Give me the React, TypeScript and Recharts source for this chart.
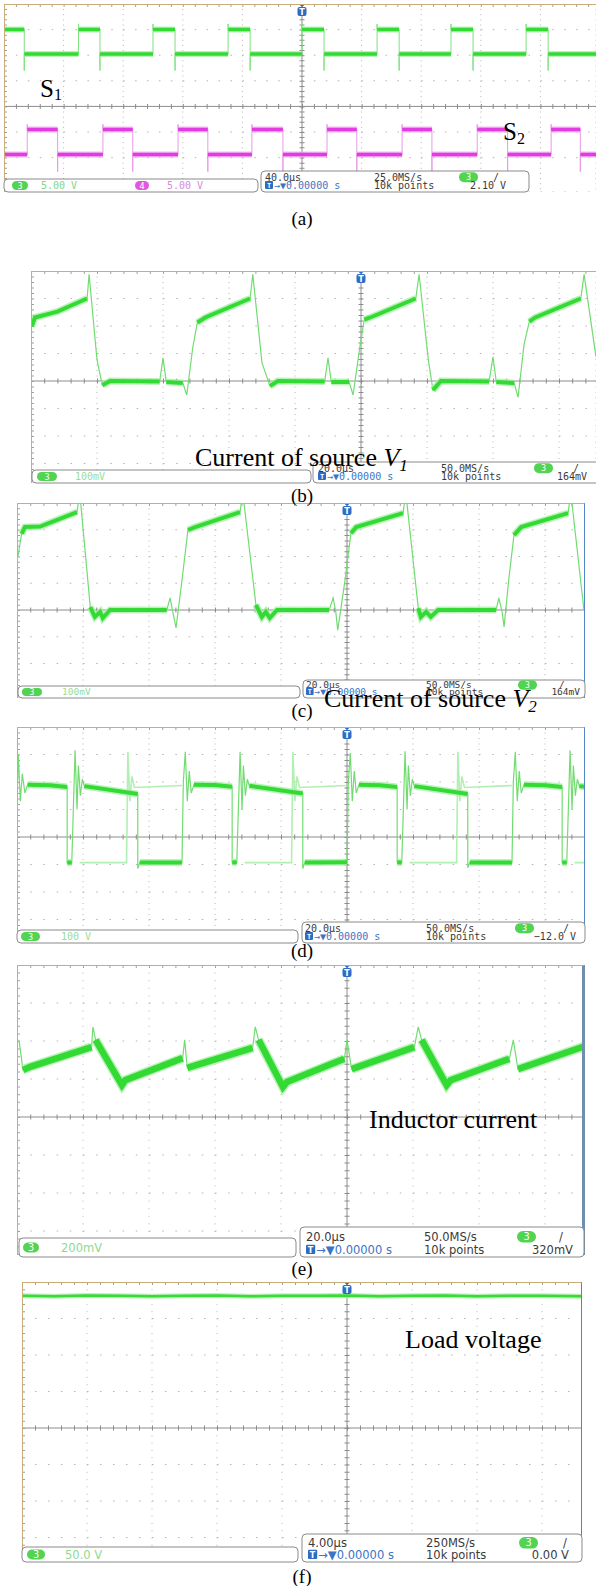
import React from 'react';
import { ComposedChart, Line, XAxis, YAxis, CartesianGrid, ReferenceLine, ReferenceDot } from 'recharts';

// every trace is in screen divisions, measured from the trigger (centre of the screen)

// (a) gate pulses, 40 µs/div, 5 V/div
const s1Rise = [-3.75, -2.5, -1.24, 0, 1.26, 2.5, 3.76];
const s1Fall = [-4.66, -3.39, -2.13, -0.87, 0.37, 1.63, 2.87, 4.13];
const s1Level = [2.05, 3.0]; // low, high
const s1Ring = [1.4, 3.22]; // edge overshoot below / above
const s2Rise = [-4.61, -3.34, -2.08, -0.84, 0.42, 1.68, 2.94, 4.18];
const s2Fall = [-4.1, -2.84, -1.58, -0.32, 0.92, 2.18, 3.45, 4.67];
const s2Level = [-1.88, -0.9];
const s2Ring = [-2.55, -0.7];

// (b) current of source V1, 20 µs/div
const bTime = [-4.99, -4.94, -4.6, -4.15, -4.12, -4.0, -3.92, -3.8, -3.05, -3.0, -2.95, -2.7, -2.64, -2.55, -2.48, -2.36, -1.68, -1.64, -1.5, -1.38, -1.26, -0.55, -0.5, -0.45, -0.18, -0.12, -0.02, 0.05, 0.14, 0.83, 0.88, 1.02, 1.09, 1.21, 1.94, 2.0, 2.05, 2.32, 2.38, 2.47, 2.55, 2.64, 3.33, 3.38, 3.56];
const bCurrent = [1.98, 2.31, 2.52, 3.0, 3.88, 0.77, -0.15, 0, -0.02, 0.84, -0.04, -0.07, -0.51, 1.2, 2.12, 2.31, 3.0, 3.88, 0.66, -0.18, 0, -0.02, 0.84, -0.04, -0.04, -0.51, 1.2, 2.23, 2.31, 3.0, 3.88, 0.77, -0.33, 0, -0.02, 0.88, -0.04, -0.07, -0.59, 1.32, 2.16, 2.31, 3.0, 3.88, 0.88];
const bBand = [1, 1, 1, 0, 0, 0, 1, 1, 0, 0, 1, 0, 0, 0, 1, 1, 0, 0, 0, 1, 1, 0, 0, 1, 0, 0, 0, 1, 1, 0, 0, 0, 1, 1, 0, 0, 1, 0, 0, 0, 1, 1, 0, 0];

// (c) current of source V2
const cTime = [-4.985, -4.93, -4.88, -4.65, -4.09, -4.05, -3.89, -3.82, -3.74, -3.7, -3.59, -2.73, -2.68, -2.64, -2.59, -2.5, -2.41, -2.3, -1.62, -1.58, -1.38, -1.29, -1.23, -1.17, -1.06, -0.27, -0.21, -0.17, -0.14, -0.03, 0.06, 0.14, 0.85, 0.89, 1.08, 1.12, 1.2, 1.27, 1.38, 2.26, 2.3, 2.35, 2.38, 2.45, 2.53, 2.64, 3.35, 3.39, 3.59];
const cCurrent = [2.01, 2.85, 3.1, 3.12, 3.66, 4.4, 0.11, -0.26, -0.07, -0.3, 0, 0, 0.45, -0.07, -0.67, 1.12, 2.99, 3.1, 3.66, 4.4, 0.19, -0.26, -0.07, -0.3, 0, 0, 0.45, -0.07, -0.75, 1.12, 2.87, 3.1, 3.62, 4.4, 0.07, -0.26, -0.07, -0.26, 0, 0, 0.45, -0.07, -0.63, 1.12, 2.8, 3.1, 3.62, 4.4, 0];
const cBand = [0, 1, 1, 1, 0, 0, 1, 1, 1, 1, 1, 0, 0, 0, 0, 0, 1, 1, 0, 0, 1, 1, 1, 1, 1, 0, 0, 0, 0, 0, 1, 1, 0, 0, 1, 1, 1, 1, 1, 0, 0, 0, 0, 0, 1, 1, 0, 0];

// (d) switch voltage, 100 V/div
const dTime = [
  -5.0, -4.98, -4.95, -4.92, -4.88, -4.84, -4.5, -4.24, -4.24, -4.17, -4.12, -4.09, -4.07, -4.04, -4.01, -3.98, -3.17, -3.17, -3.14, -2.5,
  -2.48, -2.45, -2.42, -2.39, -2.36, -2.32, -2.0, -1.74, -1.74, -1.67, -1.62, -1.59, -1.57, -1.54, -1.51, -1.48, -0.67, -0.67, -0.64, 0,
  0.02, 0.05, 0.08, 0.11, 0.14, 0.18, 0.5, 0.76, 0.76, 0.83, 0.88, 0.91, 0.93, 0.96, 0.99, 1.02, 1.83, 1.83, 1.86, 2.5,
  2.52, 2.55, 2.58, 2.61, 2.64, 2.68, 3.0, 3.26, 3.26, 3.33, 3.38, 3.41, 3.43, 3.46, 3.49, 3.52, 3.61,
];
const dVoltage = [
  1.2, 3.0, 1.3, 2.3, 1.6, 1.9, 1.88, 1.82, -0.93, -0.93, 3.15, 1.0, 2.6, 1.5, 2.1, 1.85, 1.56, -1.15, -0.93, -0.93,
  2.0, 3.1, 1.3, 2.4, 1.6, 1.9, 1.89, 1.83, -0.93, -0.92, 3.1, 1.0, 2.6, 1.5, 2.1, 1.86, 1.58, -1.15, -0.93, -0.92,
  2.0, 3.05, 1.3, 2.4, 1.6, 1.9, 1.88, 1.82, -0.92, -0.93, 3.12, 1.0, 2.6, 1.5, 2.1, 1.85, 1.56, -1.12, -0.93, -0.93,
  2.0, 3.1, 1.3, 2.4, 1.6, 1.9, 1.88, 1.82, -0.93, -0.93, 3.15, 1.0, 2.6, 1.5, 2.1, 1.85, 1.83,
];
const dBand = [
  0, 0, 0, 0, 0, 1, 1, 0, 1, 0, 0, 0, 0, 0, 0, 1, 0, 0, 1, 0,
  0, 0, 0, 0, 0, 1, 1, 0, 1, 0, 0, 0, 0, 0, 0, 1, 0, 0, 1, 0,
  0, 0, 0, 0, 0, 1, 1, 0, 1, 0, 0, 0, 0, 0, 0, 1, 0, 0, 1, 0,
  0, 0, 0, 0, 0, 1, 1, 0, 1, 0, 0, 0, 0, 0, 0, 1,
];
const dGhostTime = [-4.05, -3.34, -3.32, -3.29, -3.26, -3.22, -2.5, -2.5, -1.55, -0.84, -0.82, -0.79, -0.76, -0.72, 0, 0, 0.95, 1.66, 1.68, 1.71, 1.74, 1.78, 2.5, 2.5, 3.45, 3.61];
const dGhostVoltage = [-0.93, -0.93, 3.1, 1.3, 2.2, 1.8, 1.87, null, -0.93, -0.93, 3.1, 1.3, 2.2, 1.8, 1.87, null, -0.93, -0.93, 3.1, 1.3, 2.2, 1.8, 1.87, null, -0.93, -0.93];

// (e) inductor current, 200 mV/div
const eTime = [-4.97, -4.91, -4.8, -3.87, -3.85, -3.81, -3.41, -3.36, -2.49, -2.46, -2.42, -1.43, -1.39, -1.34, -0.97, -0.91, -0.04, 0.0, 0.07, 1.02, 1.08, 1.13, 1.51, 1.57, 2.46, 2.52, 2.59, 3.6];
const eCurrent = [2.03, 1.24, 1.32, 1.84, 2.37, 2.03, 0.84, 0.97, 1.55, 2.03, 1.29, 1.82, 2.37, 2.03, 0.79, 0.92, 1.53, 2.03, 1.26, 1.84, 2.37, 2.03, 0.84, 0.97, 1.53, 2.03, 1.26, 1.86];
const eBand = [0, 1, 1, 0, 0, 1, 1, 1, 0, 0, 1, 0, 0, 1, 1, 1, 0, 0, 1, 0, 0, 1, 1, 1, 0, 0, 1];

// (f) load voltage, 4 µs/div, 50 V/div
const fTime = [-5, -4.5, -4, -3.5, -3, -2.5, -2, -1.5, -1, -0.5, 0, 0.5, 1, 1.5, 2, 2.5, 3, 3.62];
const fVoltage = [3.62, 3.61, 3.63, 3.62, 3.61, 3.62, 3.63, 3.61, 3.62, 3.62, 3.63, 3.61, 3.62, 3.63, 3.61, 3.62, 3.62, 3.61];

type Pt = { t: number; v: number | null };

const path = (ts: number[], vs: (number | null)[]): Pt[] => ts.map((t, i) => ({ t, v: vs[i] }));

// keep only the segments flagged in mask, break the line elsewhere
const band = (ts: number[], vs: number[], mask: number[]): Pt[] => {
  const out: Pt[] = [];
  ts.forEach((t, i) => {
    const before = i > 0 && mask[i - 1] === 1;
    const after = i < ts.length - 1 && mask[i] === 1;
    if (!before && !after) return;
    if (!before && out.length && out[out.length - 1].v !== null) out.push({ t, v: null });
    out.push({ t, v: vs[i] });
  });
  return out;
};

const pulses = (rise: number[], fall: number[], level: number[], ring: number[], t0: number, t1: number, startHigh: boolean) => {
  const edges = [...rise.map((t) => ({ t, up: true })), ...fall.map((t) => ({ t, up: false }))].sort((p, q) => p.t - q.t);
  let cur = startHigh ? level[1] : level[0];
  const thin: Pt[] = [{ t: t0, v: cur }];
  const thick: Pt[] = [{ t: t0, v: cur }];
  edges.forEach(({ t, up }) => {
    const next = up ? level[1] : level[0];
    thin.push({ t, v: cur }, { t, v: up ? ring[1] : ring[0] }, { t, v: next });
    thick.push({ t, v: cur }, { t, v: null }, { t, v: next });
    cur = next;
  });
  thin.push({ t: t1, v: cur });
  thick.push({ t: t1, v: cur });
  return { thin, thick };
};

const s1 = pulses(s1Rise, s1Fall, s1Level, s1Ring, -5, 5, true);
const s2 = pulses(s2Rise, s2Fall, s2Level, s2Ring, -5, 5, false);

type Trace = { data: Pt[]; stroke: string; width: number; opacity?: number };

const greenTraces = (thin: Pt[], thick: Pt[], w: number): Trace[] => [
  { data: thin, stroke: '#72dc72', width: 1.2 },
  { data: thick, stroke: '#a9efa9', width: w + 3, opacity: 0.8 },
  { data: thick, stroke: '#34da34', width: w },
];

const TMarker = (p: any) => (
  <g>
    <path d={`M${p.cx - 3.5},${p.cy} L${p.cx + 3.5},${p.cy} L${p.cx},${p.cy + 3} Z`} fill="#2c6cc4" />
    <rect x={p.cx - 4.5} y={p.cy + 3} width={9} height={9} rx={2} fill="#2c6cc4" />
    <text x={p.cx} y={p.cy + 10.5} fontSize={8} fill="#fff" textAnchor="middle" fontFamily="DejaVu Sans" fontWeight="bold">
      T
    </text>
  </g>
);

interface ScopeProps {
  left: number;
  top: number;
  width: number;
  height: number;
  divX: number;
  divY: number;
  traces: Trace[];
  rightEdge?: string;
  rightWidth?: number;
}

const Scope: React.FC<ScopeProps> = ({ left, top, width, height, divX, divY, traces, rightEdge, rightWidth = 1 }) => {
  const xMin = -5;
  const xMax = xMin + width / divX;
  const yMax = 4;
  const yMin = yMax - height / divY;
  const xTicks = [-4, -3, -2, -1, 1, 2, 3, 4].filter((v) => v < xMax);
  const yTicks = [-3, -2, -1, 1, 2, 3].filter((v) => v > yMin);
  const hStep = divX * 0.2;
  const vStep = divY * 0.2;
  return (
    <div style={{ position: 'absolute', left, top, width, height, overflow: 'hidden' }}>
      <ComposedChart width={width} height={height} margin={{ top: 0, right: 0, bottom: 0, left: 0 }}>
        <XAxis type="number" dataKey="t" domain={[xMin, xMax]} ticks={xTicks} allowDataOverflow hide />
        <YAxis type="number" domain={[yMin, yMax]} ticks={yTicks} allowDataOverflow hide />
        <CartesianGrid horizontal={false} stroke="#b4b4b4" strokeDasharray={`1 ${vStep - 1}`} />
        <CartesianGrid vertical={false} stroke="#b4b4b4" strokeDasharray={`1.5 ${hStep - 1.5}`} />
        <ReferenceLine y={0} stroke="#8c8c8c" />
        <ReferenceLine x={0} stroke="#8c8c8c" />
        <ReferenceLine segment={[{ x: xMin, y: 0 }, { x: xMax, y: 0 }]} stroke="#8c8c8c" strokeWidth={5} strokeDasharray={`1 ${hStep - 1}`} />
        <ReferenceLine segment={[{ x: 0, y: yMax }, { x: 0, y: yMin }]} stroke="#8c8c8c" strokeWidth={5} strokeDasharray={`1 ${vStep - 1}`} />
        <ReferenceLine segment={[{ x: xMin, y: yMax }, { x: xMax, y: yMax }]} stroke="#a0a0a0" strokeWidth={6} strokeDasharray={`1 ${hStep - 1}`} />
        <ReferenceLine segment={[{ x: xMin, y: yMax }, { x: xMin, y: yMin }]} stroke="#a0a0a0" strokeWidth={6} strokeDasharray={`1 ${vStep - 1}`} />
        {traces.map((tr, i) => (
          <Line
            key={i}
            data={tr.data}
            dataKey="v"
            type="linear"
            dot={false}
            activeDot={false}
            isAnimationActive={false}
            stroke={tr.stroke}
            strokeWidth={tr.width}
            strokeOpacity={tr.opacity ?? 1}
            connectNulls={false}
          />
        ))}
        <ReferenceDot x={0} y={yMax} r={4} shape={TMarker} ifOverflow="visible" />
      </ComposedChart>
      <div
        style={{
          position: 'absolute',
          inset: 0,
          boxSizing: 'border-box',
          borderTop: '1.5px solid #c8ad78',
          borderLeft: '1.5px solid #c8ad78',
          borderRight: rightEdge ? `${rightWidth}px solid ${rightEdge}` : undefined,
          pointerEvents: 'none',
        }}
      />
    </div>
  );
};

interface Chan {
  x: number;
  w: number;
  n: string;
  fill: string;
  text: string;
  tx: number;
  tc: string;
}

interface StatusSpec {
  lb: number[];
  rb: number[];
  chans: Chan[];
  scale: string;
  rate: string;
  level: string;
  cx: number;
  rx: number;
  px: number;
  sx: number;
  lx: number;
  font: string;
  size: number;
}

const mono = 'DejaVu Sans Mono, monospace';
const sans = 'DejaVu Sans, sans-serif';
const ch3 = '#52d352';

const statusList: StatusSpec[] = [
  {
    lb: [4, 179, 254, 13], rb: [261, 171, 268, 21],
    chans: [
      { x: 12, w: 16, n: '3', fill: ch3, text: '5.00 V', tx: 41, tc: '#84d684' },
      { x: 135, w: 14, n: '4', fill: '#e058e0', text: '5.00 V', tx: 167, tc: '#d68ad6' },
    ],
    scale: '40.0µs', rate: '25.0MS/s', level: '2.10 V', cx: 265, rx: 374, px: 459, sx: 493, lx: 506, font: mono, size: 10,
  },
  {
    lb: [32, 470, 279, 13], rb: [313, 462, 290, 21],
    chans: [{ x: 37, w: 20, n: '3', fill: ch3, text: '100mV', tx: 75, tc: '#9adc9a' }],
    scale: '20.0µs', rate: '50.0MS/s', level: '164mV', cx: 318, rx: 441, px: 534, sx: 573, lx: 587, font: mono, size: 10,
  },
  {
    lb: [18, 686, 282, 12], rb: [303, 680, 282, 18],
    chans: [{ x: 22, w: 20, n: '3', fill: ch3, text: '100mV', tx: 62, tc: '#9adc9a' }],
    scale: '20.0µs', rate: '50.0MS/s', level: '164mV', cx: 306, rx: 426, px: 518, sx: 559, lx: 580, font: mono, size: 9.5,
  },
  {
    lb: [17, 930, 281, 13], rb: [302, 922, 283, 21],
    chans: [{ x: 21, w: 19, n: '3', fill: ch3, text: '100 V', tx: 61, tc: '#9adc9a' }],
    scale: '20.0µs', rate: '50.0MS/s', level: '−12.0 V', cx: 305, rx: 426, px: 515, sx: 563, lx: 576, font: mono, size: 10,
  },
  {
    lb: [19, 1238, 277, 19], rb: [300, 1227, 284, 30],
    chans: [{ x: 23, w: 16, n: '3', fill: ch3, text: '200mV', tx: 61, tc: '#8fd98f' }],
    scale: '20.0µs', rate: '50.0MS/s', level: '320mV', cx: 306, rx: 424, px: 517, sx: 559, lx: 573, font: sans, size: 11.5,
  },
  {
    lb: [22, 1547, 276, 15], rb: [302, 1534, 280, 28],
    chans: [{ x: 27, w: 18, n: '3', fill: ch3, text: '50.0 V', tx: 65, tc: '#8fd98f' }],
    scale: '4.00µs', rate: '250MS/s', level: '0.00 V', cx: 308, rx: 426, px: 519, sx: 563, lx: 569, font: sans, size: 11.5,
  },
];

const Status: React.FC<{ s: StatusSpec }> = ({ s }) => {
  const [lx, ly, lw, lh] = s.lb;
  const [rx, ry, rw, rh] = s.rb;
  const l1 = ry + rh * 0.46;
  const l2 = ry + rh - 3;
  const pillH = Math.min(lh - 4, 10);
  const lBase = ly + lh / 2 + s.size * 0.36;
  const box = s.size * 0.8;
  return (
    <g fontFamily={s.font} fontSize={s.size}>
      <rect x={lx} y={ly} width={lw} height={lh} rx={4} fill="#fff" stroke="#8a8a8a" />
      {s.chans.map((c) => (
        <g key={c.tx}>
          <rect x={c.x} y={ly + (lh - pillH) / 2} width={c.w} height={pillH} rx={pillH / 2} fill={c.fill} />
          <text x={c.x + c.w / 2} y={lBase - 0.5} textAnchor="middle" fill="#fff" fontSize={s.size * 0.85}>
            {c.n}
          </text>
          <text x={c.tx} y={lBase} fill={c.tc}>
            {c.text}
          </text>
        </g>
      ))}
      <rect x={rx} y={ry} width={rw} height={rh} rx={4} fill="#fff" stroke="#8a8a8a" />
      <text x={s.cx} y={l1} fill="#3a3a3a">
        {s.scale}
      </text>
      <rect x={s.cx} y={l2 - box} width={box} height={box} rx={1} fill="#2c6cc4" />
      <text x={s.cx + box / 2} y={l2 - 1} textAnchor="middle" fill="#fff" fontSize={s.size * 0.7} fontWeight="bold">
        T
      </text>
      <text x={s.cx + box + 1} y={l2} fill="#3b73c6">
        →▼0.00000 s
      </text>
      <text x={s.rx} y={l1} fill="#3a3a3a">
        {s.rate}
      </text>
      <text x={s.rx} y={l2} fill="#3a3a3a">
        10k points
      </text>
      <rect x={s.px} y={l1 - s.size * 0.85} width={19} height={s.size} rx={s.size / 2} fill={ch3} />
      <text x={s.px + 9.5} y={l1 - 0.5} textAnchor="middle" fill="#fff" fontSize={s.size * 0.85}>
        3
      </text>
      <text x={s.sx} y={l1} fill="#3a3a3a">
        /
      </text>
      <text x={s.lx} y={l2} textAnchor="end" fill="#3a3a3a">
        {s.level}
      </text>
    </g>
  );
};

const serif = 'Liberation Serif, Times New Roman, serif';

const captions = [
  { label: '(a)', y: 225 },
  { label: '(b)', y: 502 },
  { label: '(c)', y: 717 },
  { label: '(d)', y: 957 },
  { label: '(e)', y: 1275 },
  { label: '(f)', y: 1583 },
];

const App: React.FC = () => {
  return (
    <div style={{ position: 'absolute', left: 0, top: 0, width: 596, height: 1586, background: '#fff', overflow: 'hidden' }}>
      <Scope
        left={4}
        top={4}
        width={592}
        height={188}
        divX={59.6}
        divY={25.6}
        traces={[
          { data: s1.thin, stroke: '#7fe07f', width: 1 },
          { data: s1.thick, stroke: '#a9efa9', width: 6, opacity: 0.8 },
          { data: s1.thick, stroke: '#34da34', width: 3.5 },
          { data: s2.thin, stroke: '#e89ae8', width: 1 },
          { data: s2.thick, stroke: '#f0a8f0', width: 6, opacity: 0.8 },
          { data: s2.thick, stroke: '#e13ce1', width: 3.5 },
        ]}
      />
      <Scope left={31} top={271} width={565} height={212} divX={66} divY={27.5} traces={greenTraces(path(bTime, bCurrent), band(bTime, bCurrent, bBand), 4)} />
      <Scope
        left={17}
        top={503}
        width={568}
        height={195}
        divX={66}
        divY={26.75}
        rightEdge="#4f86c6"
        rightWidth={1.5}
        traces={greenTraces(path(cTime, cCurrent), band(cTime, cCurrent, cBand), 4)}
      />
      <Scope
        left={17}
        top={727}
        width={568}
        height={213}
        divX={66}
        divY={27.5}
        rightEdge="#4f86c6"
        rightWidth={1.5}
        traces={[
          { data: path(dGhostTime, dGhostVoltage), stroke: '#a4eca4', width: 1.6, opacity: 0.85 },
          ...greenTraces(path(dTime, dVoltage), band(dTime, dVoltage, dBand), 4),
        ]}
      />
      <Scope
        left={17}
        top={965}
        width={568}
        height={290}
        divX={66}
        divY={38}
        rightEdge="#6f8fae"
        rightWidth={3}
        traces={greenTraces(path(eTime, eCurrent), band(eTime, eCurrent, eBand), 6.5)}
      />
      <Scope
        left={22}
        top={1282}
        width={560}
        height={278}
        divX={65}
        divY={36.5}
        rightEdge="#4f86c6"
        rightWidth={1.5}
        traces={[
          { data: path(fTime, fVoltage), stroke: '#a9efa9', width: 5, opacity: 0.8 },
          { data: path(fTime, fVoltage), stroke: '#38da38', width: 2.5 },
        ]}
      />
      <svg width={596} height={1586} style={{ position: 'absolute', left: 0, top: 0, pointerEvents: 'none' }}>
        {statusList.map((s, i) => (
          <Status key={i} s={s} />
        ))}
        <g fontFamily={serif} fill="#000">
          <text x={40} y={97} fontSize={25}>
            S<tspan fontSize={16} dy={3}>1</tspan>
          </text>
          <text x={503} y={140} fontSize={25}>
            S<tspan fontSize={16} dy={4}>2</tspan>
          </text>
          <text x={195} y={466} fontSize={26}>
            Current of source <tspan fontStyle="italic">V</tspan>
            <tspan fontStyle="italic" fontSize={17} dy={5}>
              1
            </tspan>
          </text>
          <text x={324} y={707} fontSize={26}>
            Current of source <tspan fontStyle="italic">V</tspan>
            <tspan fontStyle="italic" fontSize={17} dy={5}>
              2
            </tspan>
          </text>
          <text x={369} y={1128} fontSize={26}>
            Inductor current
          </text>
          <text x={405} y={1348} fontSize={26}>
            Load voltage
          </text>
          {captions.map((c) => (
            <text key={c.label} x={302} y={c.y} fontSize={19} textAnchor="middle">
              {c.label}
            </text>
          ))}
        </g>
      </svg>
    </div>
  );
};

export default App;
